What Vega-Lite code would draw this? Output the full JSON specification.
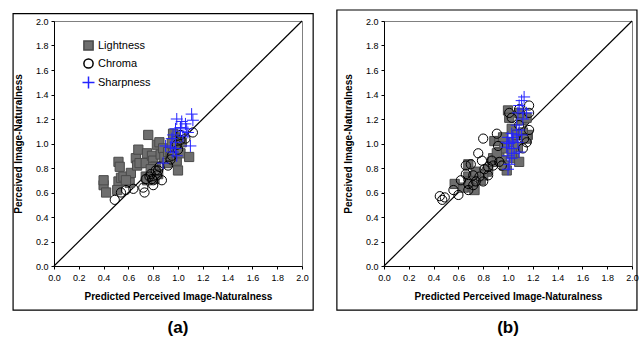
{
  "$schema": "https://vega.github.io/schema/vega-lite/v6.json",
  "padding": {"left": 11, "top": 8, "right": 0, "bottom": 3},
  "spacing": 20,
  "config": {
    "font": "Liberation Sans",
    "view": {"stroke": "#808080", "strokeWidth": 1},
    "axis": {
      "grid": false,
      "domainColor": "#000000",
      "tickColor": "#000000",
      "tickSize": 3,
      "labelFontSize": 9,
      "labelColor": "#000000",
      "labelOverlap": false,
      "labelFlush": false,
      "titleFontSize": 10,
      "titleFontWeight": "bold",
      "titleColor": "#000000"
    },
    "legend": {
      "orient": "none",
      "legendX": 29,
      "legendY": 19,
      "padding": 0,
      "title": null,
      "labelFontSize": 11,
      "labelColor": "#000000",
      "symbolSize": 85,
      "rowPadding": 1,
      "labelOffset": 4
    },
    "title": {"fontSize": 17, "fontWeight": "bold", "color": "#000000"}
  },
  "datasets": {
    "diag": [{"x": 0, "y": 0}, {"x": 2, "y": 2}],
    "a": [
      {"s": "Lightness", "x": 0.40, "y": 0.66},
      {"s": "Lightness", "x": 0.40, "y": 0.70},
      {"s": "Lightness", "x": 0.42, "y": 0.60},
      {"s": "Lightness", "x": 0.52, "y": 0.85},
      {"s": "Lightness", "x": 0.53, "y": 0.81},
      {"s": "Lightness", "x": 0.52, "y": 0.69},
      {"s": "Lightness", "x": 0.51, "y": 0.62},
      {"s": "Lightness", "x": 0.54, "y": 0.72},
      {"s": "Lightness", "x": 0.56, "y": 0.73},
      {"s": "Lightness", "x": 0.62, "y": 0.76},
      {"s": "Lightness", "x": 0.61, "y": 0.68},
      {"s": "Lightness", "x": 0.66, "y": 0.88},
      {"s": "Lightness", "x": 0.68, "y": 0.95},
      {"s": "Lightness", "x": 0.67, "y": 0.82},
      {"s": "Lightness", "x": 0.69, "y": 0.84},
      {"s": "Lightness", "x": 0.74, "y": 0.84},
      {"s": "Lightness", "x": 0.75, "y": 0.92},
      {"s": "Lightness", "x": 0.76, "y": 1.07},
      {"s": "Lightness", "x": 0.74, "y": 0.73},
      {"s": "Lightness", "x": 0.79, "y": 0.90},
      {"s": "Lightness", "x": 0.80, "y": 0.86},
      {"s": "Lightness", "x": 0.82, "y": 0.81},
      {"s": "Lightness", "x": 0.83, "y": 0.99},
      {"s": "Lightness", "x": 0.85, "y": 1.01},
      {"s": "Lightness", "x": 0.86, "y": 0.91},
      {"s": "Lightness", "x": 0.88, "y": 0.96},
      {"s": "Lightness", "x": 0.89, "y": 0.89},
      {"s": "Lightness", "x": 0.91, "y": 0.84},
      {"s": "Lightness", "x": 0.92, "y": 0.93},
      {"s": "Lightness", "x": 0.94, "y": 0.89},
      {"s": "Lightness", "x": 0.96, "y": 0.92},
      {"s": "Lightness", "x": 0.99, "y": 0.86},
      {"s": "Lightness", "x": 1.00, "y": 0.97},
      {"s": "Lightness", "x": 1.00, "y": 0.78},
      {"s": "Lightness", "x": 1.02, "y": 0.92},
      {"s": "Lightness", "x": 0.98, "y": 1.05},
      {"s": "Lightness", "x": 0.96, "y": 1.08},
      {"s": "Lightness", "x": 0.99, "y": 1.02},
      {"s": "Lightness", "x": 1.03, "y": 1.01},
      {"s": "Lightness", "x": 1.09, "y": 0.89},
      {"s": "Lightness", "x": 0.95, "y": 1.00},
      {"s": "Lightness", "x": 0.80, "y": 0.81},
      {"s": "Lightness", "x": 0.78, "y": 0.79},
      {"s": "Lightness", "x": 0.84, "y": 0.75},
      {"s": "Lightness", "x": 0.81, "y": 0.71},
      {"s": "Lightness", "x": 0.75, "y": 0.70},
      {"s": "Lightness", "x": 0.58, "y": 0.70},
      {"s": "Chroma", "x": 0.49, "y": 0.54},
      {"s": "Chroma", "x": 0.54, "y": 0.60},
      {"s": "Chroma", "x": 0.58, "y": 0.62},
      {"s": "Chroma", "x": 0.64, "y": 0.63},
      {"s": "Chroma", "x": 0.72, "y": 0.64},
      {"s": "Chroma", "x": 0.73, "y": 0.60},
      {"s": "Chroma", "x": 0.74, "y": 0.71},
      {"s": "Chroma", "x": 0.78, "y": 0.75},
      {"s": "Chroma", "x": 0.80, "y": 0.70},
      {"s": "Chroma", "x": 0.80, "y": 0.66},
      {"s": "Chroma", "x": 0.79, "y": 0.71},
      {"s": "Chroma", "x": 0.83, "y": 0.74},
      {"s": "Chroma", "x": 0.84, "y": 0.78},
      {"s": "Chroma", "x": 0.87, "y": 0.70},
      {"s": "Chroma", "x": 0.85, "y": 0.81},
      {"s": "Chroma", "x": 0.92, "y": 0.82},
      {"s": "Chroma", "x": 0.94, "y": 0.87},
      {"s": "Chroma", "x": 0.95, "y": 0.90},
      {"s": "Chroma", "x": 1.00, "y": 0.95},
      {"s": "Chroma", "x": 0.99, "y": 0.99},
      {"s": "Chroma", "x": 1.02, "y": 1.03},
      {"s": "Chroma", "x": 1.06, "y": 1.04},
      {"s": "Chroma", "x": 1.12, "y": 1.09},
      {"s": "Chroma", "x": 1.02, "y": 1.07},
      {"s": "Chroma", "x": 0.82, "y": 0.78},
      {"s": "Chroma", "x": 0.77, "y": 0.73},
      {"s": "Sharpness", "x": 0.99, "y": 1.20},
      {"s": "Sharpness", "x": 1.11, "y": 1.24},
      {"s": "Sharpness", "x": 1.12, "y": 1.19},
      {"s": "Sharpness", "x": 1.10, "y": 0.98},
      {"s": "Sharpness", "x": 1.03, "y": 1.18},
      {"s": "Sharpness", "x": 1.06, "y": 1.16},
      {"s": "Sharpness", "x": 1.07, "y": 1.12},
      {"s": "Sharpness", "x": 1.02, "y": 1.13},
      {"s": "Sharpness", "x": 0.98, "y": 1.12},
      {"s": "Sharpness", "x": 0.96, "y": 1.07},
      {"s": "Sharpness", "x": 0.95, "y": 1.04},
      {"s": "Sharpness", "x": 1.02, "y": 1.10},
      {"s": "Sharpness", "x": 0.94, "y": 0.97},
      {"s": "Sharpness", "x": 0.90, "y": 0.98},
      {"s": "Sharpness", "x": 0.98, "y": 0.96},
      {"s": "Sharpness", "x": 0.96, "y": 0.93},
      {"s": "Sharpness", "x": 0.99, "y": 0.90},
      {"s": "Sharpness", "x": 0.88, "y": 0.84},
      {"s": "Sharpness", "x": 1.04, "y": 1.06},
      {"s": "Sharpness", "x": 1.08, "y": 1.09},
      {"s": "Sharpness", "x": 0.98, "y": 1.01}
    ],
    "b": [
      {"s": "Lightness", "x": 0.57, "y": 0.67},
      {"s": "Lightness", "x": 0.68, "y": 0.73},
      {"s": "Lightness", "x": 0.68, "y": 0.83},
      {"s": "Lightness", "x": 0.72, "y": 0.64},
      {"s": "Lightness", "x": 0.73, "y": 0.62},
      {"s": "Lightness", "x": 0.64, "y": 0.64},
      {"s": "Lightness", "x": 0.78, "y": 0.70},
      {"s": "Lightness", "x": 0.83, "y": 0.77},
      {"s": "Lightness", "x": 0.84, "y": 0.79},
      {"s": "Lightness", "x": 0.87, "y": 0.85},
      {"s": "Lightness", "x": 0.88, "y": 0.88},
      {"s": "Lightness", "x": 0.89, "y": 1.02},
      {"s": "Lightness", "x": 0.93, "y": 0.93},
      {"s": "Lightness", "x": 0.95, "y": 0.86},
      {"s": "Lightness", "x": 0.93, "y": 1.02},
      {"s": "Lightness", "x": 0.96, "y": 1.05},
      {"s": "Lightness", "x": 0.97, "y": 0.96},
      {"s": "Lightness", "x": 0.99, "y": 0.78},
      {"s": "Lightness", "x": 1.00, "y": 1.27},
      {"s": "Lightness", "x": 1.01, "y": 1.21},
      {"s": "Lightness", "x": 1.03, "y": 1.12},
      {"s": "Lightness", "x": 1.04, "y": 1.01},
      {"s": "Lightness", "x": 1.05, "y": 0.88},
      {"s": "Lightness", "x": 1.07, "y": 1.07},
      {"s": "Lightness", "x": 1.09, "y": 0.85},
      {"s": "Lightness", "x": 1.08, "y": 0.97},
      {"s": "Lightness", "x": 1.11, "y": 1.19},
      {"s": "Lightness", "x": 1.15, "y": 1.21},
      {"s": "Lightness", "x": 1.16, "y": 1.07},
      {"s": "Lightness", "x": 1.12, "y": 1.09},
      {"s": "Lightness", "x": 1.15, "y": 1.04},
      {"s": "Lightness", "x": 1.09, "y": 1.25},
      {"s": "Lightness", "x": 0.97, "y": 0.82},
      {"s": "Lightness", "x": 0.80, "y": 0.74},
      {"s": "Lightness", "x": 0.74, "y": 0.77},
      {"s": "Lightness", "x": 0.69, "y": 0.69},
      {"s": "Lightness", "x": 0.91, "y": 0.92},
      {"s": "Lightness", "x": 1.03, "y": 0.92},
      {"s": "Chroma", "x": 0.45, "y": 0.57},
      {"s": "Chroma", "x": 0.47, "y": 0.54},
      {"s": "Chroma", "x": 0.49, "y": 0.56},
      {"s": "Chroma", "x": 0.56, "y": 0.62},
      {"s": "Chroma", "x": 0.60, "y": 0.58},
      {"s": "Chroma", "x": 0.62, "y": 0.70},
      {"s": "Chroma", "x": 0.66, "y": 0.75},
      {"s": "Chroma", "x": 0.66, "y": 0.82},
      {"s": "Chroma", "x": 0.68, "y": 0.67},
      {"s": "Chroma", "x": 0.68, "y": 0.62},
      {"s": "Chroma", "x": 0.70, "y": 0.83},
      {"s": "Chroma", "x": 0.72, "y": 0.66},
      {"s": "Chroma", "x": 0.76, "y": 0.92},
      {"s": "Chroma", "x": 0.77, "y": 0.73},
      {"s": "Chroma", "x": 0.79, "y": 0.86},
      {"s": "Chroma", "x": 0.80, "y": 1.04},
      {"s": "Chroma", "x": 0.80, "y": 0.69},
      {"s": "Chroma", "x": 0.81, "y": 0.79},
      {"s": "Chroma", "x": 0.84, "y": 0.81},
      {"s": "Chroma", "x": 0.87, "y": 0.86},
      {"s": "Chroma", "x": 0.88, "y": 0.82},
      {"s": "Chroma", "x": 0.91, "y": 1.08},
      {"s": "Chroma", "x": 0.92, "y": 0.98},
      {"s": "Chroma", "x": 0.93, "y": 0.85},
      {"s": "Chroma", "x": 0.95, "y": 0.82},
      {"s": "Chroma", "x": 1.01, "y": 1.25},
      {"s": "Chroma", "x": 1.03, "y": 1.21},
      {"s": "Chroma", "x": 1.09, "y": 1.15},
      {"s": "Chroma", "x": 1.12, "y": 0.96},
      {"s": "Chroma", "x": 1.13, "y": 1.04},
      {"s": "Chroma", "x": 1.17, "y": 1.31},
      {"s": "Chroma", "x": 1.17, "y": 1.25},
      {"s": "Chroma", "x": 1.17, "y": 1.11},
      {"s": "Chroma", "x": 1.15, "y": 1.01},
      {"s": "Chroma", "x": 1.09, "y": 1.28},
      {"s": "Chroma", "x": 0.72, "y": 0.74},
      {"s": "Chroma", "x": 0.84, "y": 0.74},
      {"s": "Chroma", "x": 0.74, "y": 0.69},
      {"s": "Sharpness", "x": 1.13, "y": 1.38},
      {"s": "Sharpness", "x": 1.11, "y": 1.35},
      {"s": "Sharpness", "x": 1.09, "y": 1.31},
      {"s": "Sharpness", "x": 1.12, "y": 1.28},
      {"s": "Sharpness", "x": 1.08, "y": 1.25},
      {"s": "Sharpness", "x": 1.15, "y": 1.25},
      {"s": "Sharpness", "x": 1.12, "y": 1.20},
      {"s": "Sharpness", "x": 1.07, "y": 1.15},
      {"s": "Sharpness", "x": 1.09, "y": 1.11},
      {"s": "Sharpness", "x": 1.03, "y": 1.08},
      {"s": "Sharpness", "x": 1.07, "y": 1.07},
      {"s": "Sharpness", "x": 1.00, "y": 1.05},
      {"s": "Sharpness", "x": 1.04, "y": 1.02},
      {"s": "Sharpness", "x": 1.01, "y": 1.00},
      {"s": "Sharpness", "x": 1.08, "y": 1.01},
      {"s": "Sharpness", "x": 0.99, "y": 0.97},
      {"s": "Sharpness", "x": 1.03, "y": 0.96},
      {"s": "Sharpness", "x": 1.05, "y": 0.92},
      {"s": "Sharpness", "x": 1.00, "y": 0.90},
      {"s": "Sharpness", "x": 1.03, "y": 0.88},
      {"s": "Sharpness", "x": 1.01, "y": 0.83},
      {"s": "Sharpness", "x": 1.00, "y": 0.79},
      {"s": "Sharpness", "x": 1.04, "y": 1.05},
      {"s": "Sharpness", "x": 1.09, "y": 0.93},
      {"s": "Sharpness", "x": 1.11, "y": 1.07},
      {"s": "Sharpness", "x": 0.99, "y": 1.01}
    ]
  },
  "hconcat": [
    {
      "width": 248,
      "height": 245,
      "title": {"text": "(a)", "orient": "bottom", "frame": "group", "anchor": "middle", "offset": 9},
      "layer": [
        {
          "encoding": {
            "x": {"field": "x", "type": "quantitative", "scale": {"domain": [0, 2], "nice": false},
                  "axis": {"values": [0, 0.2, 0.4, 0.6, 0.8, 1.0, 1.2, 1.4, 1.6, 1.8, 2.0], "format": ".1f", "labelOverlap": false, "labelFlush": false, "title": "Predicted Perceived Image-Naturalness", "labelPadding": 4, "titlePadding": 9}},
            "y": {"field": "y", "type": "quantitative", "scale": {"domain": [0, 2], "nice": false},
                  "axis": {"values": [0, 0.2, 0.4, 0.6, 0.8, 1.0, 1.2, 1.4, 1.6, 1.8, 2.0], "format": ".1f", "labelOverlap": false, "labelFlush": false, "title": "Perceived Image-Naturalness", "labelPadding": 3, "titlePadding": 12}}
          },
          "layer": [
            {
              "data": {"name": "diag"},
              "mark": {"type": "line", "color": "#000000", "strokeWidth": 1.2}
            },
            {
              "data": {"name": "a"},
              "mark": {"type": "point", "filled": false, "opacity": 1, "strokeWidth": 1, "size": 85},
              "encoding": {
                "shape": {"field": "s", "type": "nominal", "sort": null,
                          "scale": {"domain": ["Lightness", "Chroma", "Sharpness"], "range": ["square", "circle", "M-1.3,0L1.3,0M0,-1.3L0,1.3"]}},
                "color": {"field": "s", "type": "nominal", "sort": null,
                          "scale": {"domain": ["Lightness", "Chroma", "Sharpness"], "range": ["#4a4a4a", "#000000", "#2424ff"]}},
                "fill": {"field": "s", "type": "nominal", "sort": null,
                         "scale": {"domain": ["Lightness", "Chroma", "Sharpness"], "range": ["#6e6e6e", "transparent", "transparent"]}}
              }
            }
          ]
        },
        {
          "data": {"values": [{"box": 1}]},
          "mark": {"type": "rect", "fill": "transparent", "stroke": "#000000", "strokeWidth": 1.2, "clip": false},
          "encoding": {
            "x": {"datum": -0.33, "type": "quantitative", "scale": {"domain": [0, 2], "nice": false},
                  "axis": {"values": [0, 0.2, 0.4, 0.6, 0.8, 1.0, 1.2, 1.4, 1.6, 1.8, 2.0], "format": ".1f", "labelOverlap": false, "labelFlush": false, "title": "Predicted Perceived Image-Naturalness", "labelPadding": 4, "titlePadding": 9}},
            "x2": {"datum": 2.09},
            "y": {"datum": -0.36, "type": "quantitative", "scale": {"domain": [0, 2], "nice": false},
                  "axis": {"values": [0, 0.2, 0.4, 0.6, 0.8, 1.0, 1.2, 1.4, 1.6, 1.8, 2.0], "format": ".1f", "labelOverlap": false, "labelFlush": false, "title": "Perceived Image-Naturalness", "labelPadding": 3, "titlePadding": 12}},
            "y2": {"datum": 2.06}
          }
        }
      ]
    },
    {
      "width": 248,
      "height": 245,
      "title": {"text": "(b)", "orient": "bottom", "frame": "group", "anchor": "middle", "offset": 9},
      "layer": [
        {
          "encoding": {
            "x": {"field": "x", "type": "quantitative", "scale": {"domain": [0, 2], "nice": false},
                  "axis": {"values": [0, 0.2, 0.4, 0.6, 0.8, 1.0, 1.2, 1.4, 1.6, 1.8, 2.0], "format": ".1f", "labelOverlap": false, "labelFlush": false, "title": "Predicted Perceived Image-Naturalness", "labelPadding": 4, "titlePadding": 9}},
            "y": {"field": "y", "type": "quantitative", "scale": {"domain": [0, 2], "nice": false},
                  "axis": {"values": [0, 0.2, 0.4, 0.6, 0.8, 1.0, 1.2, 1.4, 1.6, 1.8, 2.0], "format": ".1f", "labelOverlap": false, "labelFlush": false, "title": "Perceived Image-Naturalness", "labelPadding": 3, "titlePadding": 12}}
          },
          "layer": [
            {
              "data": {"name": "diag"},
              "mark": {"type": "line", "color": "#000000", "strokeWidth": 1.2}
            },
            {
              "data": {"name": "b"},
              "mark": {"type": "point", "filled": false, "opacity": 1, "strokeWidth": 1, "size": 85},
              "encoding": {
                "shape": {"field": "s", "type": "nominal", "sort": null,
                          "scale": {"domain": ["Lightness", "Chroma", "Sharpness"], "range": ["square", "circle", "M-1.3,0L1.3,0M0,-1.3L0,1.3"]}},
                "color": {"field": "s", "type": "nominal", "sort": null,
                          "scale": {"domain": ["Lightness", "Chroma", "Sharpness"], "range": ["#4a4a4a", "#000000", "#2424ff"]}},
                "fill": {"field": "s", "type": "nominal", "sort": null,
                         "scale": {"domain": ["Lightness", "Chroma", "Sharpness"], "range": ["#6e6e6e", "transparent", "transparent"]}}
              }
            }
          ]
        },
        {
          "data": {"values": [{"box": 1}]},
          "mark": {"type": "rect", "fill": "transparent", "stroke": "#000000", "strokeWidth": 1.2, "clip": false},
          "encoding": {
            "x": {"datum": -0.38, "type": "quantitative", "scale": {"domain": [0, 2], "nice": false},
                  "axis": {"values": [0, 0.2, 0.4, 0.6, 0.8, 1.0, 1.2, 1.4, 1.6, 1.8, 2.0], "format": ".1f", "labelOverlap": false, "labelFlush": false, "title": "Predicted Perceived Image-Naturalness", "labelPadding": 4, "titlePadding": 9}},
            "x2": {"datum": 2.04},
            "y": {"datum": -0.36, "type": "quantitative", "scale": {"domain": [0, 2], "nice": false},
                  "axis": {"values": [0, 0.2, 0.4, 0.6, 0.8, 1.0, 1.2, 1.4, 1.6, 1.8, 2.0], "format": ".1f", "labelOverlap": false, "labelFlush": false, "title": "Perceived Image-Naturalness", "labelPadding": 3, "titlePadding": 12}},
            "y2": {"datum": 2.09}
          }
        }
      ]
    }
  ]
}
